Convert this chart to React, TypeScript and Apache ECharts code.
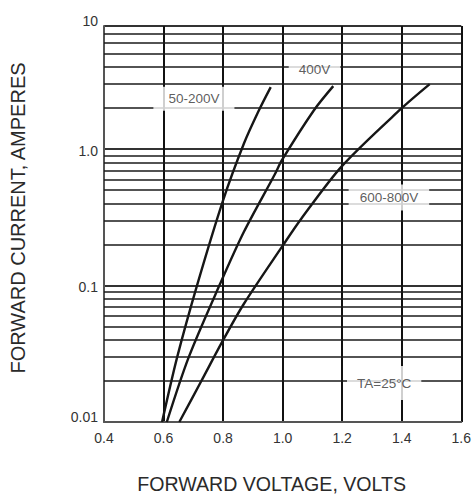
import React, { useEffect, useRef } from "react";
import * as echarts from "echarts";

// Forward characteristics (volts, amperes)
const v50_200 = [0.595, 0.646, 0.714, 0.8, 0.87, 0.918, 0.96];
const i50_200 = [0.01, 0.03, 0.103, 0.422, 1.1, 1.88, 2.85];

const v400 = [0.611, 0.685, 0.79, 0.87, 0.973, 0.998, 1.104, 1.17];
const i400 = [0.01, 0.03, 0.103, 0.248, 0.65, 0.834, 1.915, 2.9];

const v600_800 = [0.653, 0.726, 0.8, 0.87, 0.998, 1.062, 1.2, 1.398, 1.494];
const i600_800 = [0.01, 0.0198, 0.0398, 0.0736, 0.193, 0.308, 0.755, 1.98, 3.0];

// Minor horizontal grid values (log grid, the chart is cut at 8 A)
const minorGrid = [
  0.02, 0.03, 0.04, 0.05, 0.06, 0.07, 0.08, 0.09,
  0.2, 0.3, 0.4, 0.5, 0.6, 0.7, 0.8, 0.9,
  2, 3, 4, 5, 6, 7,
];
const yMin = 0.01;
const yTop = 8;
const yTickLabels = ["0.01", "0.1", "1.0", "10"];

// Annotation labels
const noteNames = ["50-200V", "400V", "600-800V", "TA=25°C"];
const noteV = [0.702, 1.107, 1.357, 1.341];
const noteI = [2.34, 3.85, 0.443, 0.0193];

const FONT = "'Liberation Sans', Arial, Helvetica, sans-serif";

function zip(xs: number[], ys: number[]) {
  return xs.map((x, k) => [x, ys[k]]);
}

export default function App() {
  const ref = useRef<HTMLDivElement>(null);
  useEffect(() => {
    if (!ref.current) return;
    const chart = echarts.init(ref.current, undefined, { renderer: "svg" });
    const curveStyle = { color: "#161616", width: 2.4 };
    const paddings = [
      [4, 15],
      [5, 10],
      [5, 11],
      [9, 10],
    ];
    const option: any = {
      animation: false,
      backgroundColor: "#ffffff",
      grid: { left: 93, right: 6, top: 26, bottom: 71, containLabel: false },
      xAxis: {
        type: "value",
        min: 0.4,
        max: 1.6,
        interval: 0.2,
        name: "FORWARD VOLTAGE, VOLTS",
        nameLocation: "middle",
        nameGap: 52,
        nameTextStyle: {
          fontFamily: FONT,
          fontSize: 19.6,
          color: "#2a2a2a",
          padding: [0, 22, 0, 0],
        },
        axisLine: { show: true, lineStyle: { color: "#555", width: 2 } },
        axisTick: { show: false },
        axisLabel: {
          fontFamily: FONT,
          fontSize: 14,
          color: "#333",
          margin: 9,
          formatter: (v: number) => v.toFixed(1),
        },
        splitLine: { show: true, lineStyle: { color: "#111", width: 2 } },
      },
      yAxis: {
        type: "log",
        logBase: 10,
        min: yMin,
        max: yTop,
        name: "FORWARD CURRENT, AMPERES",
        nameLocation: "middle",
        nameGap: 76,
        nameRotate: 90,
        nameTextStyle: {
          fontFamily: FONT,
          fontSize: 20,
          color: "#2a2a2a",
          padding: [0, 0, 0, 12],
        },
        axisLine: { show: true, lineStyle: { color: "#555", width: 2 } },
        axisTick: { show: false },
        axisLabel: {
          fontFamily: FONT,
          fontSize: 14,
          color: "#333",
          margin: 6,
          formatter: (v: number) => {
            if (v >= 5) return "{up|" + yTickLabels[3] + "}";
            if (v >= 0.5) return "{dn|" + yTickLabels[2] + "}";
            if (v >= 0.05) return "{dn|" + yTickLabels[1] + "}";
            return "{up|" + yTickLabels[0] + "}";
          },
          rich: {
            up: { fontFamily: FONT, fontSize: 14, color: "#333", padding: [0, 0, 11, 0] },
            dn: { fontFamily: FONT, fontSize: 14, color: "#333", padding: [3, 0, 0, 0] },
          },
        },
        splitLine: { show: true, lineStyle: { color: "#333", width: 2 } },
      },
      series: [
        {
          type: "line",
          name: "grid",
          data: [],
          silent: true,
          markLine: {
            silent: true,
            symbol: ["none", "none"],
            label: { show: false },
            lineStyle: { color: "#1a1a1a", width: 1.6, type: "solid" },
            data: minorGrid.map((v) => ({ yAxis: v })),
          },
        },
        {
          type: "line",
          name: "50-200V",
          data: zip(v50_200, i50_200),
          smooth: 0.3,
          showSymbol: false,
          symbol: "none",
          lineStyle: curveStyle,
          z: 3,
        },
        {
          type: "line",
          name: "400V",
          data: zip(v400, i400),
          smooth: 0.3,
          showSymbol: false,
          symbol: "none",
          lineStyle: curveStyle,
          z: 3,
        },
        {
          type: "line",
          name: "600-800V",
          data: zip(v600_800, i600_800),
          smooth: 0.3,
          showSymbol: false,
          symbol: "none",
          lineStyle: curveStyle,
          z: 3,
        },
        {
          type: "scatter",
          name: "notes",
          z: 10,
          symbolSize: 1,
          itemStyle: { color: "rgba(255,255,255,0)" },
          data: noteNames.map((n, k) => ({
            name: n,
            value: [noteV[k], noteI[k]],
            label: { padding: paddings[k] },
          })),
          label: {
            show: true,
            position: "inside",
            formatter: "{b}",
            fontFamily: FONT,
            fontSize: 13.5,
            lineHeight: 16,
            color: "#333",
            backgroundColor: "#ffffff",
          },
        },
      ],
    };
    chart.setOption(option);
    return () => chart.dispose();
  }, []);
  return (
    <div
      ref={ref}
      style={{ position: "fixed", left: 0, top: 0, width: 474, height: 499, background: "#fff" }}
    />
  );
}
